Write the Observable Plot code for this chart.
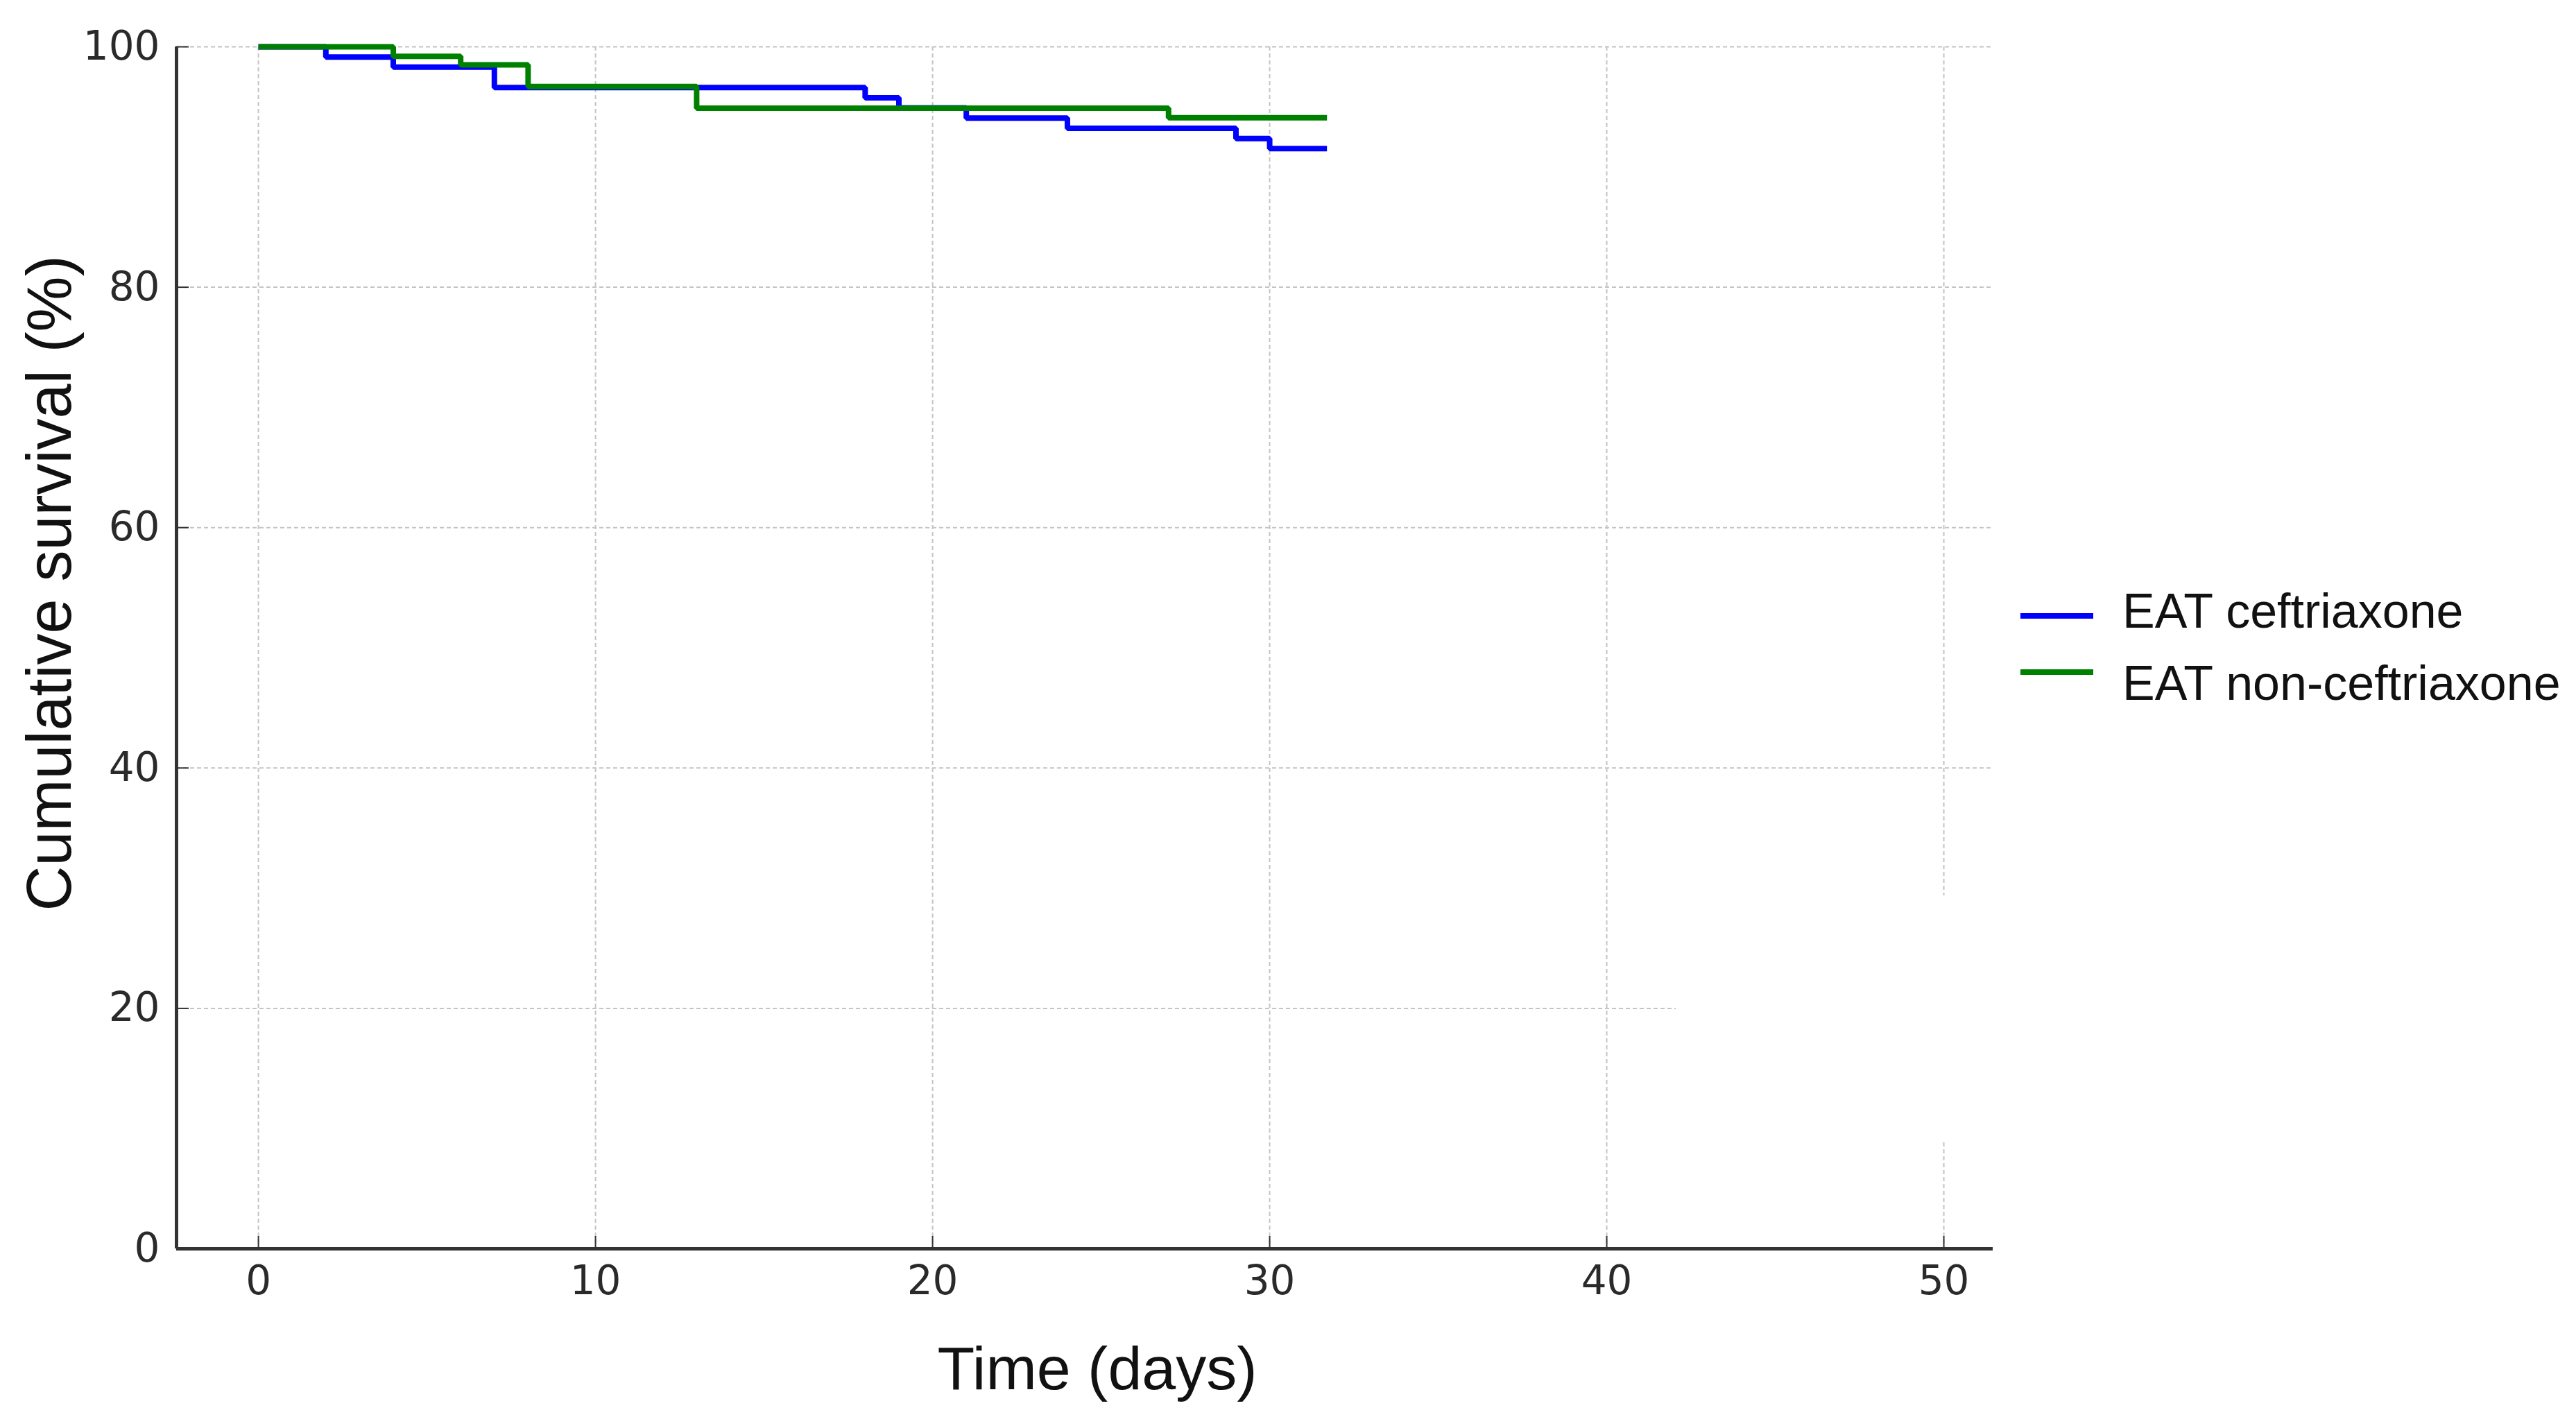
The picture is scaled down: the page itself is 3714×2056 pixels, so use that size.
<!DOCTYPE html>
<html><head><meta charset="utf-8">
<script src="https://cdn.jsdelivr.net/npm/d3@7"></script>
<script src="https://cdn.jsdelivr.net/npm/@observablehq/plot@0.6"></script>
<style>
html,body{margin:0;padding:0;background:#fff;}
#wrap{position:relative;width:3714px;height:2056px;overflow:hidden;background:#fff;}
#wrap svg{position:absolute;left:0;top:0;}
.t{position:absolute;font-family:"Liberation Sans",Arial,sans-serif;color:#111;white-space:nowrap;line-height:1;}
.lg{position:absolute;height:8px;width:105px;}
</style></head><body><div id="wrap"></div>
<script>
// ---- data ----
const xTicks = [0, 10, 20, 30, 40, 50];
const yTicks = [0, 20, 40, 60, 80, 100];
const seriesNames = ["EAT ceftriaxone", "EAT non-ceftriaxone"];
const seriesColors = ["#0000ff", "#008000"];
const ceftriaxoneDays = [0, 2, 4, 7, 18, 19, 21, 24, 29, 30, 31.7];
const ceftriaxoneSurvival = [100, 99.15, 98.31, 96.61, 95.76, 94.92, 94.07, 93.22, 92.37, 91.53, 91.53];
const nonCeftriaxoneDays = [0, 4, 6, 8, 13, 27, 31.7];
const nonCeftriaxoneSurvival = [100, 99.2, 98.5, 96.7, 94.9, 94.1, 94.1];
const xLabel = "Time (days)";
const yLabel = "Cumulative survival (%)";
const xDomain = [-2.43, 51.46];
const yDomain = [0, 100];

const rows = [];
ceftriaxoneDays.forEach((d, i) => rows.push({series: seriesNames[0], day: d, surv: ceftriaxoneSurvival[i]}));
nonCeftriaxoneDays.forEach((d, i) => rows.push({series: seriesNames[1], day: d, surv: nonCeftriaxoneSurvival[i]}));

const gridStyle = {stroke: "#c4c4c4", strokeOpacity: 1, strokeWidth: 2, strokeDasharray: "6,4"};

const plot = Plot.plot({
  width: 3714, height: 2056,
  marginLeft: 254, marginRight: 841, marginTop: 67, marginBottom: 256,
  x: {domain: xDomain},
  y: {domain: yDomain},
  color: {domain: seriesNames, range: seriesColors},
  style: {fontFamily: "DejaVu Sans", fontSize: "58px", color: "#2a2a2a", background: "transparent", overflow: "visible"},
  marks: [
    Plot.gridX(xTicks, gridStyle),
    Plot.gridY(yTicks.filter(v => v !== yDomain[0]), gridStyle),
    Plot.line(rows, {x: "day", y: "surv", z: "series", stroke: "series", curve: "step-after", strokeWidth: 8, strokeLinejoin: "miter", strokeLinecap: "butt"}),
    Plot.ruleY([yDomain[0]], {stroke: "#333", strokeWidth: 5}),
    Plot.ruleX([xDomain[0]], {stroke: "#333", strokeWidth: 5}),
    Plot.ruleX(xTicks, {x: d => d, y1: () => yDomain[0], y2: () => yDomain[0], insetTop: -18, stroke: "#333", strokeWidth: 2}),
    Plot.ruleY(yTicks, {y: d => d, x1: () => xDomain[0], x2: () => xDomain[0], insetRight: -18, stroke: "#333", strokeWidth: 2}),
    Plot.axisX(xTicks, {tickSize: 0, tickPadding: 24, label: null, fontSize: 58, fill: "#2a2a2a"}),
    Plot.axisY(yTicks, {tickSize: 0, tickPadding: 24, label: null, fontSize: 58, fill: "#2a2a2a"})
  ]
});

const wrap = document.getElementById("wrap");
wrap.appendChild(plot);

function addDiv(cls, css, text) {
  const d = document.createElement("div");
  d.className = cls;
  d.style.cssText = css;
  if (text != null) d.textContent = text;
  wrap.appendChild(d);
  return d;
}
// white patch present in the reference
addDiv("", "position:absolute;left:2416px;top:1291px;width:746px;height:355px;background:#fff;");
// axis titles
addDiv("t", "left:1582px;top:1973px;transform:translate(-50%,-50%);font-size:88px;", xLabel);
addDiv("t", "left:71px;top:841px;transform:translate(-50%,-50%) rotate(-90deg);font-size:90px;", yLabel);
// legend
const legendY = [[888, 881], [969, 985]];
seriesNames.forEach((name, i) => {
  addDiv("lg", `left:2913px;top:${legendY[i][0] - 4}px;background:${seriesColors[i]};`);
  addDiv("t", `left:3060px;top:${legendY[i][1]}px;transform:translateY(-50%);font-size:70px;`, name);
});
</script>
</body></html>
